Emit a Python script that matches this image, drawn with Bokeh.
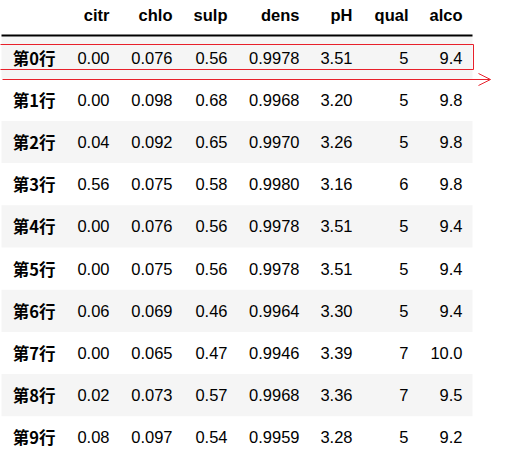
from bokeh.plotting import figure
from bokeh.models import Arrow, OpenHead
from bokeh.core.properties import value
from bokeh.embed import file_html
from bokeh.resources import INLINE

columns = ["citr", "chlo", "sulp", "dens", "pH", "qual", "alco"]
row_labels = ["第%d行" % i for i in range(10)]
citr = ["0.00", "0.00", "0.04", "0.56", "0.00", "0.00", "0.06", "0.00", "0.02", "0.08"]
chlo = ["0.076", "0.098", "0.092", "0.075", "0.076", "0.075", "0.069", "0.065", "0.073", "0.097"]
sulp = ["0.56", "0.68", "0.65", "0.58", "0.56", "0.56", "0.46", "0.47", "0.57", "0.54"]
dens = ["0.9978", "0.9968", "0.9970", "0.9980", "0.9978", "0.9978", "0.9964", "0.9946", "0.9968", "0.9959"]
ph = ["3.51", "3.20", "3.26", "3.16", "3.51", "3.51", "3.30", "3.39", "3.36", "3.28"]
qual = ["5", "5", "5", "6", "5", "5", "5", "7", "7", "5"]
alco = ["9.4", "9.8", "9.8", "9.8", "9.4", "9.4", "9.4", "10.0", "9.5", "9.2"]
table = [citr, chlo, sulp, dens, ph, qual, alco]

# page pixel layout
col_right = [117, 180, 235, 307, 360, 416, 470]
label_right = 63
header_y = 22
row_top = 44
row_h = 42.2

p = figure(width=492, height=453, x_range=(8, 500), y_range=(461, 8),
           output_backend="svg", toolbar_location=None, min_border=0)
p.axis.visible = False
p.grid.visible = False
p.outline_line_color = None
p.background_fill_color = "white"

shaded = [i for i in range(10) if i % 2 == 0]
p.quad(left=9, right=480, top=[row_top + i * row_h for i in shaded],
       bottom=[row_top + (i + 1) * row_h for i in shaded],
       fill_color="#f5f5f5", line_color=None)

p.segment(x0=9, x1=480, y0=43, y1=43, line_color="black", line_width=2)

font = value("Liberation Sans")
p.text(x=col_right, y=header_y, text=columns, text_align="right", text_baseline="middle",
       text_font=font, text_font_style="bold", text_font_size="16.5px", text_color="#000000")

ys = [row_top + (i + 0.5) * row_h for i in range(10)]
p.text(x=label_right, y=ys, text=row_labels, text_align="right", text_baseline="middle",
       text_font=value("Noto Sans CJK SC"), text_font_style="bold", text_font_size="16.5px",
       text_color="#000000")
for xr, vals in zip(col_right, table):
    p.text(x=xr, y=ys, text=vals, text_align="right", text_baseline="middle",
           text_font=font, text_font_size="16.5px", text_color="#000000")

# red highlight
p.quad(left=7, right=481, top=52, bottom=77, fill_color=None, line_color="#e8212b", line_width=1)
p.add_layout(Arrow(x_start=10, y_start=87, x_end=498, y_end=87, line_color="#e8212b", line_width=1,
                   end=OpenHead(size=12, line_color="#e8212b", line_width=1)))

open("out.html", "w").write(file_html(p, INLINE))
